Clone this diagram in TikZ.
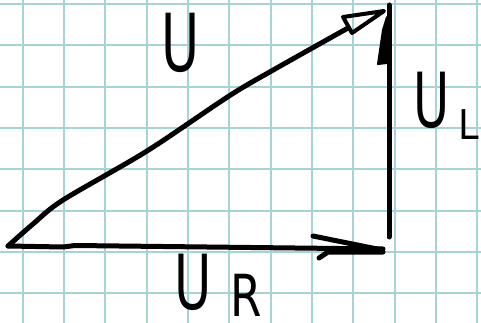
\documentclass[tikz,border=0pt]{standalone}
\usepackage{fontspec}
\setmainfont{DejaVu Sans}
\usepackage{graphicx}
\definecolor{gridteal}{RGB}{166,211,211}
\tikzset{
  gridline/.style={draw=gridteal, line width=2pt},
  pen/.style={draw=black, line width=5pt, line cap=round, line join=round},
  lbl/.style={inner sep=0pt, anchor=center, text=black},
}
\begin{document}
\begin{tikzpicture}[x=1pt,y=-1pt]
\useasboundingbox (0,0) rectangle (481,323);
\fill[white] (0,0) rectangle (481,323);
% grid paper
\begin{scope}
\clip (0,0) rectangle (481,323);
\foreach \i in {0,...,11} {
  \draw[gridline] ({22.7+41.33*\i},0) -- ({22.7+41.33*\i},323);
}
\foreach \j in {0,...,7} {
  \draw[gridline] (0,{4+41.33*\j}) -- (481,{4+41.33*\j});
}
\end{scope}
% vertices
\coordinate (O) at (8,246);
\coordinate (Rend) at (383,249);
\coordinate (Hend) at (348,28);
\coordinate (Htip) at (384,11);
\coordinate (Vtop) at (389,5);
\coordinate (Vbot) at (389,237);
% hypotenuse U
\draw[pen] plot[smooth, tension=0.5] coordinates {(O) (33,224) (63,200) (147,151) (229,96) (275,69) (Hend)};
\draw[pen, line width=4pt] (343,17) -- (Htip) -- (352,33) -- cycle;
% U_R
\draw[pen] (O) -- (63,247) -- (75,245.5) -- (Rend);
\draw[pen] (313,236) -- (382,250);
\draw[pen] (319,258) -- (328,252) -- (383,252);
% U_L
\draw[pen] (Vbot) -- (Vtop);
\fill[black] (378,64) -- (387,63) -- (387,17) -- (383,30) -- cycle;
\draw[black, line width=2pt, line join=round] (378,64) -- (387,63) -- (387,17) -- (383,30) -- cycle;
% labels
\node[lbl, font=\fontsize{80}{80}\selectfont] (labU) at (181,43) {\scalebox{0.65}[1]{U}};
\node[lbl, font=\fontsize{76}{76}\selectfont] (labUL) at (432,100) {\scalebox{0.65}[1]{U}};
\node[lbl, font=\fontsize{41}{41}\selectfont] (labL) at (469,125) {\scalebox{0.9}[1]{L}};
\node[lbl, font=\fontsize{76}{76}\selectfont] (labUR) at (193,282) {\scalebox{0.67}[1]{U}};
\node[lbl, font=\fontsize{58}{58}\selectfont] (labR) at (246,295) {\scalebox{0.78}[1]{R}};
\end{tikzpicture}
\end{document}
